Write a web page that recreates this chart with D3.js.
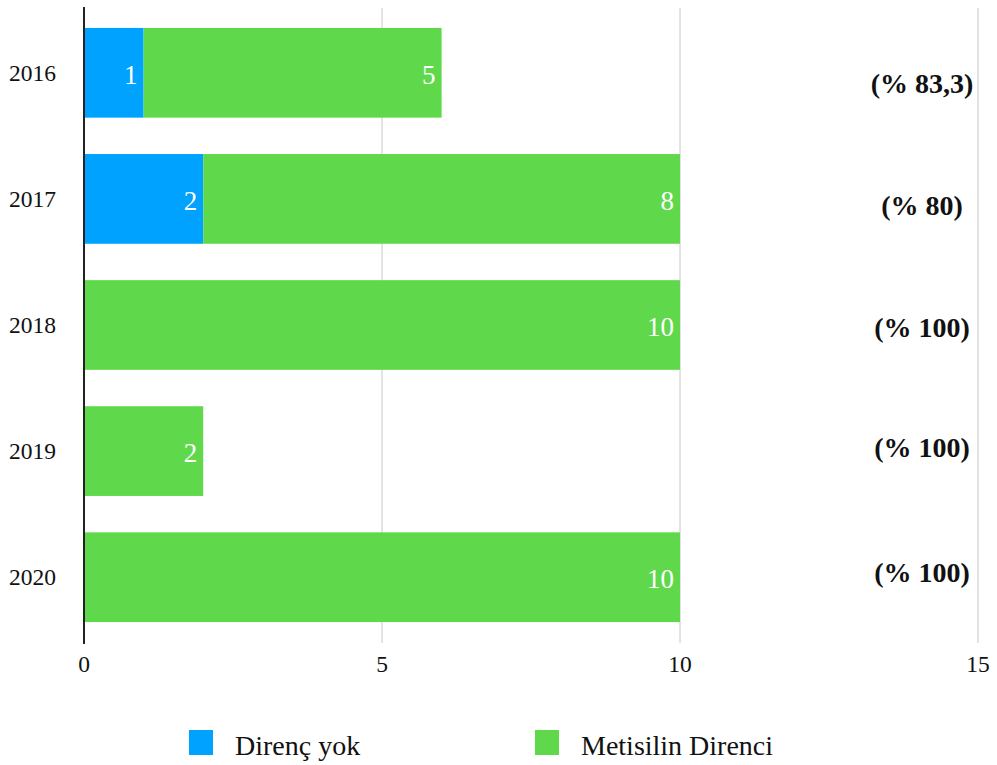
<!DOCTYPE html>
<html>
<head>
<meta charset="utf-8">
<script src="https://cdn.jsdelivr.net/npm/d3@7"></script>
<style>
  html, body { margin: 0; padding: 0; background: #fff; }
  svg { display: block; font-family: "Liberation Serif", "Times New Roman", serif; }
</style>
</head>
<body>
<svg id="chart" width="997" height="765"></svg>
<script>
// Yearly counts of isolates by resistance status
const years = ["2016", "2017", "2018", "2019", "2020"];
const noResistance = [1, 2, 0, 0, 0];
const methicillinResistance = [5, 8, 10, 2, 10];
const percentLabels = ["(% 83,3)", "(% 80)", "(% 100)", "(% 100)", "(% 100)"];
const xTicks = [0, 5, 10, 15];

const seriesNames = ["Direnç yok", "Metisilin Direnci"];
const seriesColors = ["#00a2ff", "#5fd94b"];

// vertical nudges for the percentage notes, relative to each row centre
const percentOffsets = [20, 16, 12, 6, 5];

const svg = d3.select("#chart");

const x = d3.scaleLinear().domain([0, 15]).range([84, 978]);
const y = d3.scaleBand().domain(years).range([9.75, 640.25])
  .paddingInner(0.2885).paddingOuter(0.14425);

// vertical gridlines
svg.append("g").selectAll("line")
  .data(xTicks.filter(d => d > 0))
  .join("line")
  .attr("x1", d => x(d)).attr("x2", d => x(d))
  .attr("y1", 8).attr("y2", 643)
  .attr("stroke", "#c8c8c8").attr("stroke-width", 1);

// stacked bars
const stackData = years.map((yr, i) => ({ year: yr, a: noResistance[i], b: methicillinResistance[i] }));
const stacked = d3.stack().keys(["a", "b"])(stackData);

const layers = svg.append("g").selectAll("g")
  .data(stacked)
  .join("g")
  .attr("fill", (d, i) => seriesColors[i]);

layers.selectAll("rect")
  .data(d => d.filter(s => s[1] - s[0] > 0))
  .join("rect")
  .attr("x", d => x(d[0]))
  .attr("y", d => y(d.data.year))
  .attr("width", d => x(d[1]) - x(d[0]))
  .attr("height", y.bandwidth());

// value labels inside the bar segments
layers.selectAll("text")
  .data(d => d.filter(s => s[1] - s[0] > 0))
  .join("text")
  .attr("x", d => x(d[1]) - 6)
  .attr("y", d => y(d.data.year) + y.bandwidth() / 2 + 11)
  .attr("text-anchor", "end")
  .attr("fill", "#ffffff")
  .attr("font-size", 27)
  .text(d => d[1] - d[0]);

// category labels
svg.append("g").selectAll("text")
  .data(years)
  .join("text")
  .attr("x", 56)
  .attr("y", d => y(d) + y.bandwidth() / 2 + 8)
  .attr("text-anchor", "end")
  .attr("font-size", 23.5)
  .attr("fill", "#111")
  .text(d => d);

// percentage notes
svg.append("g").selectAll("text")
  .data(percentLabels)
  .join("text")
  .attr("x", 922)
  .attr("y", (d, i) => y(years[i]) + y.bandwidth() / 2 + percentOffsets[i])
  .attr("text-anchor", "middle")
  .attr("font-size", 28)
  .attr("font-weight", "bold")
  .attr("fill", "#111")
  .text(d => d);

// value axis labels
svg.append("g").selectAll("text")
  .data(xTicks)
  .join("text")
  .attr("x", d => x(d))
  .attr("y", 672)
  .attr("text-anchor", "middle")
  .attr("font-size", 23.5)
  .attr("fill", "#111")
  .text(d => d);

// category axis line
svg.append("line")
  .attr("x1", x(0)).attr("x2", x(0))
  .attr("y1", 7).attr("y2", 644)
  .attr("stroke", "#222").attr("stroke-width", 2);

// legend
const legendX = [189, 535];
const legend = svg.append("g").selectAll("g")
  .data(seriesNames)
  .join("g")
  .attr("transform", (d, i) => `translate(${legendX[i]},730)`);
legend.append("rect")
  .attr("width", 24).attr("height", 25)
  .attr("fill", (d, i) => seriesColors[i]);
legend.append("text")
  .attr("x", 46).attr("y", 25)
  .attr("font-size", 28)
  .attr("fill", "#111")
  .text(d => d);
</script>
</body>
</html>
